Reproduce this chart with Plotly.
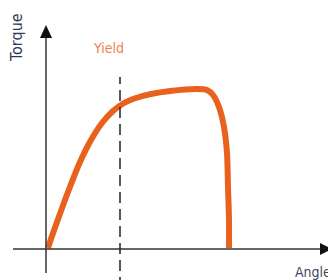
import plotly.graph_objects as go

# Torque vs angle curve (arbitrary units)
angle = [2, 6, 11, 22, 34, 45, 56, 67, 78, 90, 105, 124, 151, 161, 167, 173, 178, 181, 182, 183, 183]
torque = [0, 12, 26, 56, 86, 108, 125, 137, 145, 150, 154, 157, 159, 158, 153, 141, 121, 95, 61, 28, 0]
yield_angle = 74

x_title = "Angle"
y_title = "Torque"
yield_label = "Yield"

ORANGE = "#E8621E"
AXIS = "#333333"
FONT = "Liberation Sans Narrow, DejaVu Sans Condensed, Arial"

fig = go.Figure()
fig.add_trace(go.Scatter(x=angle, y=torque, mode="lines",
                         line=dict(color=ORANGE, width=6, shape="spline", smoothing=0.8),
                         hoverinfo="skip", showlegend=False))

shapes = [
    # y axis
    dict(type="line", x0=0, x1=0, y0=-25, y1=212, line=dict(color=AXIS, width=1.5)),
    dict(type="path", path="M -6 210 L 6 210 L 0 223 Z", fillcolor="#111111", line=dict(width=0)),
    # x axis
    dict(type="line", x0=-33, x1=276, y0=-1, y1=-1, line=dict(color=AXIS, width=1.5)),
    dict(type="path", path="M 274 5 L 274 -7 L 286 -1 Z", fillcolor="#111111", line=dict(width=0)),
    # yield line
    dict(type="line", x0=yield_angle, x1=yield_angle, y0=-40, y1=171,
         line=dict(color="#222222", width=1.5, dash="11px,6px")),
]

annotations = [
    dict(x=-29.5, y=210.5, text=y_title, showarrow=False, textangle=-90,
         font=dict(family=FONT, size=16, color="#2E3A59")),
    dict(x=62, y=200, text=yield_label, showarrow=False,
         font=dict(family=FONT, size=14, color="#EE7F4F")),
    dict(x=267, y=-24, text=x_title, showarrow=False,
         font=dict(family=FONT, size=14, color="#3C4A64")),
]

fig.update_layout(
    width=336, height=280,
    margin=dict(l=0, r=0, t=0, b=0),
    paper_bgcolor="white", plot_bgcolor="white",
    xaxis=dict(range=[-38, 298], visible=False, fixedrange=True),
    yaxis=dict(range=[-40, 240], visible=False, fixedrange=True),
    shapes=shapes, annotations=annotations,
)

fig.write_html("out.html")
